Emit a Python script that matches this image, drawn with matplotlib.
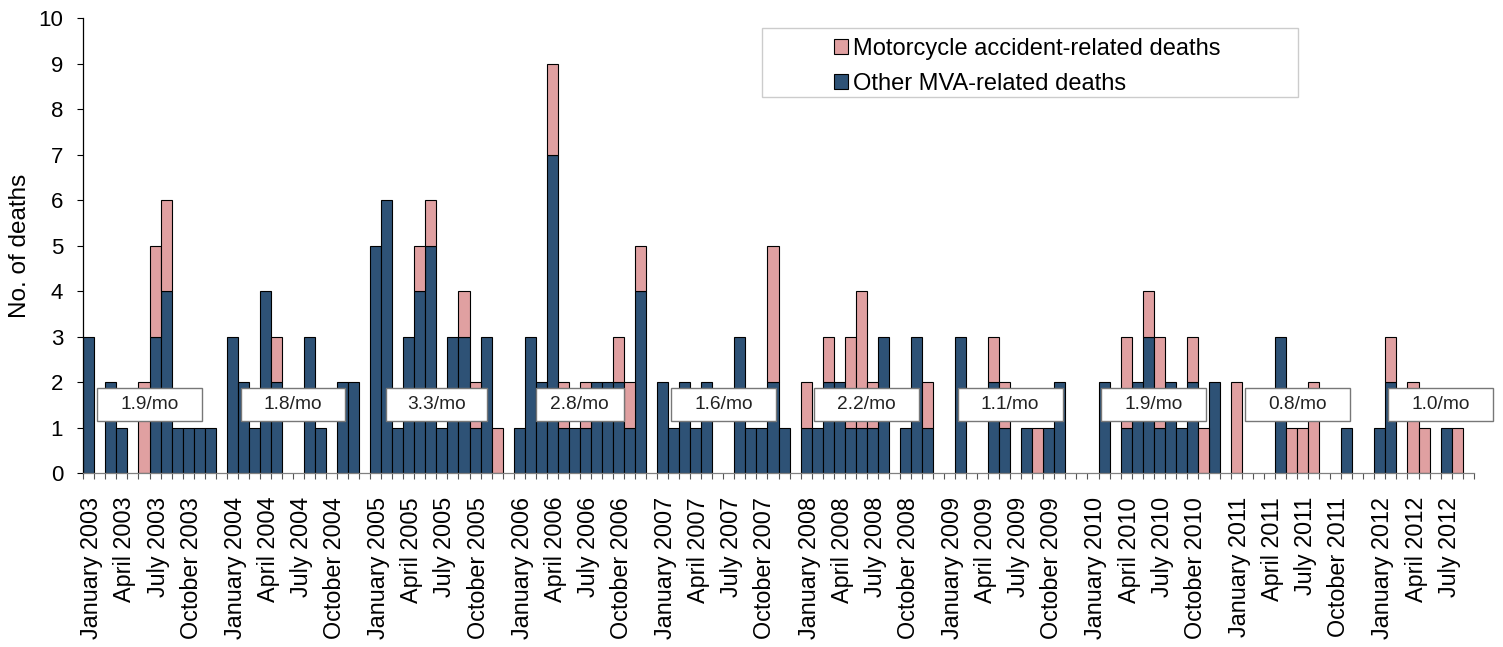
import matplotlib
matplotlib.use('Agg')
import matplotlib.pyplot as plt
from matplotlib.patches import Rectangle, Patch
from matplotlib.transforms import ScaledTranslation
import numpy as np

plt.rcParams['font.family'] = ['Liberation Sans', 'DejaVu Sans']

# ---------------- data (monthly deaths) ----------------
years = [2003, 2004, 2005, 2006, 2007, 2008, 2009, 2010, 2011, 2012]

other_2003 = [3, 0, 2, 1, 0, 0, 3, 4, 1, 1, 1, 1]
moto_2003 = [0, 0, 0, 0, 0, 2, 2, 2, 0, 0, 0, 0]
other_2004 = [3, 2, 1, 4, 2, 0, 0, 3, 1, 0, 2, 2]
moto_2004 = [0, 0, 0, 0, 1, 0, 0, 0, 0, 0, 0, 0]
other_2005 = [5, 6, 1, 3, 4, 5, 1, 3, 3, 1, 3, 0]
moto_2005 = [0, 0, 0, 0, 1, 1, 0, 0, 1, 1, 0, 1]
other_2006 = [1, 3, 2, 7, 1, 1, 1, 2, 2, 2, 1, 4]
moto_2006 = [0, 0, 0, 2, 1, 0, 1, 0, 0, 1, 1, 1]
other_2007 = [2, 1, 2, 1, 2, 0, 0, 3, 1, 1, 2, 1]
moto_2007 = [0, 0, 0, 0, 0, 0, 0, 0, 0, 0, 3, 0]
other_2008 = [1, 1, 2, 2, 1, 1, 1, 3, 0, 1, 3, 1]
moto_2008 = [1, 0, 1, 0, 2, 3, 1, 0, 0, 0, 0, 1]
other_2009 = [0, 3, 0, 0, 2, 1, 0, 1, 0, 1, 2, 0]
moto_2009 = [0, 0, 0, 0, 1, 1, 0, 0, 1, 0, 0, 0]
other_2010 = [0, 2, 0, 1, 2, 3, 1, 2, 1, 2, 0, 2]
moto_2010 = [0, 0, 0, 2, 0, 1, 2, 0, 0, 1, 1, 0]
other_2011 = [0, 0, 0, 0, 3, 0, 0, 0, 0, 0, 1, 0]
moto_2011 = [2, 0, 0, 0, 0, 1, 1, 2, 0, 0, 0, 0]
other_2012 = [1, 2, 0, 0, 0, 0, 1, 0, 0]
moto_2012 = [0, 1, 0, 2, 1, 0, 0, 1, 0]

rates = ["1.9/mo", "1.8/mo", "3.3/mo", "2.8/mo", "1.6/mo",
         "2.2/mo", "1.1/mo", "1.9/mo", "0.8/mo", "1.0/mo"]

label_months = ["January", "April", "July", "October"]
label_month_idx = [0, 3, 6, 9]

other_by_year = [other_2003, other_2004, other_2005, other_2006, other_2007,
                 other_2008, other_2009, other_2010, other_2011, other_2012]
moto_by_year = [moto_2003, moto_2004, moto_2005, moto_2006, moto_2007,
                moto_2008, moto_2009, moto_2010, moto_2011, moto_2012]

# ---------------- style ----------------
BLUE = '#2E5276'
PINK = '#E0A0A1'
W, H = 1503, 647

fig = plt.figure(figsize=(W / 100, H / 100), dpi=100)
ax_l, ax_r, ax_b, ax_t = 83.3, 1473.7, 473.3, 18.3
ax = fig.add_axes([ax_l / W, 1 - ax_b / H, (ax_r - ax_l) / W, (ax_b - ax_t) / H])

# build slot positions (one blank slot separating each year)
xs, oth, mot = [], [], []
tick_pos, tick_lab = [], []
for k, yr in enumerate(years):
    o = other_by_year[k]
    m = moto_by_year[k]
    for j in range(len(o)):
        pos = 13 * k + j
        xs.append(pos)
        oth.append(o[j])
        mot.append(m[j])
    for name, j in zip(label_months, label_month_idx):
        if j < len(o):
            tick_pos.append(13 * k + j)
            tick_lab.append(f"{name} {yr}")

xs = np.array(xs)
oth = np.array(oth)
mot = np.array(mot)

mo = oth > 0
ax.bar(xs[mo], oth[mo], width=1.0, color=BLUE, edgecolor='black', linewidth=0.8, zorder=2)
mm = mot > 0
ax.bar(xs[mm], mot[mm], bottom=oth[mm], width=1.0, color=PINK, edgecolor='black',
       linewidth=0.8, zorder=2)

n_slots = xs.max() + 1
ax.set_xlim(-0.5, n_slots - 0.5)
ax.set_ylim(0, 10)
ax.set_yticks(range(0, 11))

ax.set_xticks(tick_pos)
ax.set_xticklabels(tick_lab, rotation=90, fontsize=16.8)
ax.set_xticks(np.arange(-0.5, n_slots, 1.0), minor=True)
ax.tick_params(axis='x', which='major', length=0, pad=17)
ax.tick_params(axis='x', which='minor', length=4.5, width=0.8, color='#555555')
ax.tick_params(axis='y', which='major', length=4.5, width=0.8, direction='out',
               labelsize=16, pad=10)
shift = ScaledTranslation(3 / 100, 0, fig.dpi_scale_trans)
for lab in ax.get_xticklabels():
    lab.set_transform(lab.get_transform() + shift)

for s in ['top', 'right']:
    ax.spines[s].set_visible(False)
ax.spines['left'].set_linewidth(0.9)
ax.spines['bottom'].set_color('#808080')
ax.spines['bottom'].set_linewidth(0.9)

ax.set_ylabel('No. of deaths', fontsize=17.5)
ax.yaxis.set_label_coords(-0.0375, 0.5)

# rate boxes
box_w = [9.5, 9.5, 9.1, 8.0, 9.5, 9.5, 9.5, 9.5, 9.5, 9.5]
for k, r in enumerate(rates):
    cx = 13 * k + 5.5
    ax.add_patch(Rectangle((cx - box_w[k] / 2, 1.16), box_w[k], 0.71, facecolor='white',
                           edgecolor='#777777', linewidth=1.0, zorder=3, clip_on=False))
    ax.text(cx, 1.51, r, ha='center', va='center', fontsize=13.8, color='#222222', zorder=4)

# legend frame + legend
fig.patches.append(Rectangle((762 / W, 1 - 97 / H), (1298 - 762) / W, (97 - 28) / H,
                             transform=fig.transFigure, facecolor='white',
                             edgecolor='#cccccc', linewidth=1.0, zorder=4))
handles = [Patch(facecolor=PINK, edgecolor='black', linewidth=0.8,
                 label='Motorcycle accident-related deaths'),
           Patch(facecolor=BLUE, edgecolor='black', linewidth=0.8,
                 label='Other MVA-related deaths')]
leg = fig.legend(handles=handles, loc='upper left',
                 bbox_to_anchor=(834 / W, 1 - 38 / H), bbox_transform=fig.transFigure,
                 frameon=False, fontsize=17, handlelength=0.58, handleheight=0.58,
                 handletextpad=0.22, labelspacing=0.55, borderpad=0, borderaxespad=0)
leg.set_zorder(5)

fig.savefig('out.png', dpi=100)
